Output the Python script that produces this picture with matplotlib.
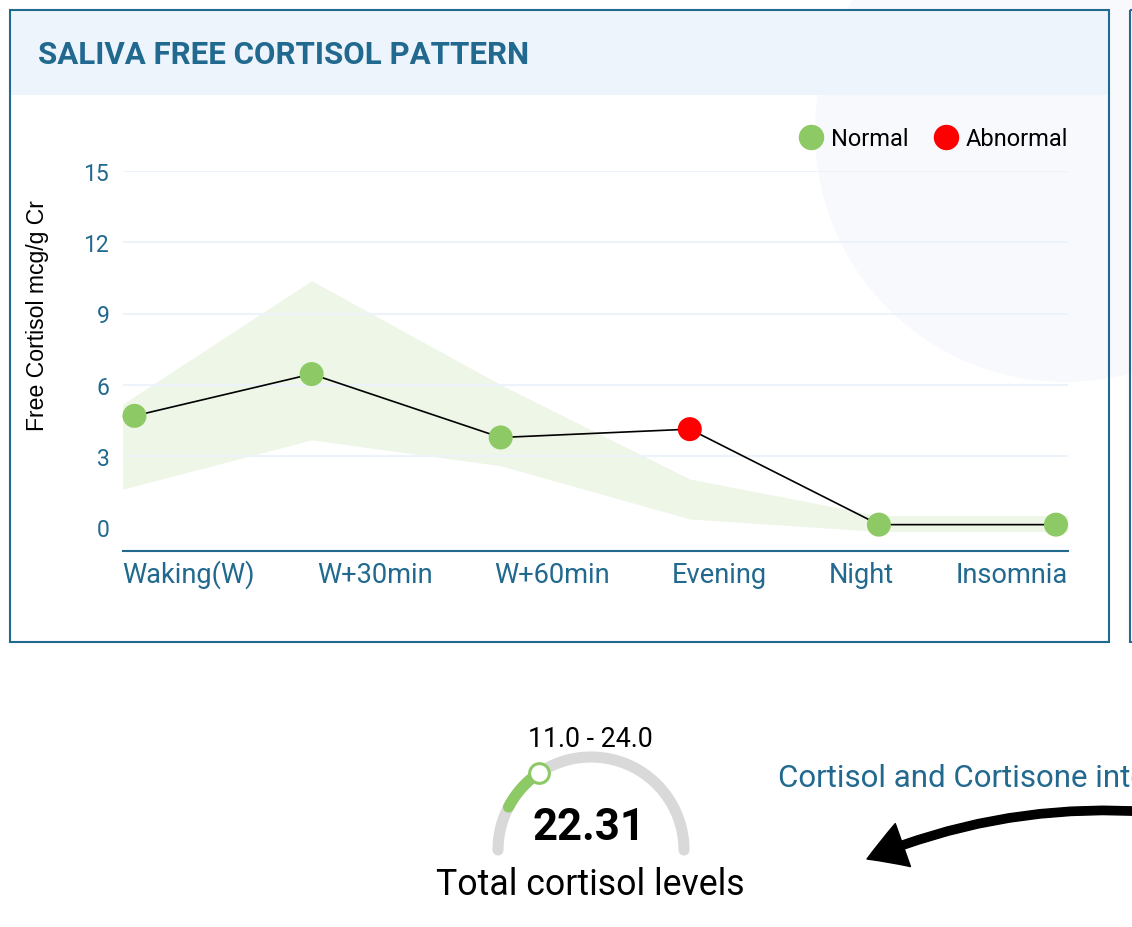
import numpy as np
import matplotlib
matplotlib.use('Agg')
import matplotlib.pyplot as plt
from matplotlib.patches import Rectangle, Circle, FancyArrowPatch, ArrowStyle
from matplotlib.lines import Line2D

# data
times = ['Waking(W)', 'W+30min', 'W+60min', 'Evening', 'Night', 'Insomnia']
cortisol = [4.69, 6.45, 3.78, 4.13, 0.11, 0.11]
status = ['normal', 'normal', 'normal', 'abnormal', 'normal', 'normal']
ref_low = [1.6, 3.68, 2.59, 0.35, -0.18, -0.18]
ref_high = [5.18, 10.38, 6.0, 2.03, 0.49, 0.49]
y_ticks = [0, 3, 6, 9, 12, 15]

total_cortisol = 22.31
total_range = (11.0, 24.0)

BLUE = '#22698f'
GREEN = '#8dc965'
RED = '#ff0000'
GRID = '#edf3fb'
BAND = '#eef6e7'

plt.rcParams['font.family'] = ['Roboto', 'DejaVu Sans']

W, H = 1132, 928
fig = plt.figure(figsize=(W / 100, H / 100), dpi=100)

# pixel overlay for the page decoration
bg = fig.add_axes([0, 0, 1, 1])
bg.set_xlim(0, W)
bg.set_ylim(H, 0)
bg.axis('off')

bg.add_patch(Circle((1065, 133), 250, color='#f7f9fc', lw=0, zorder=0))
bg.add_patch(Rectangle((10, 11), 1099, 85, color='#edf4fc', lw=0, zorder=1))
bg.add_patch(Rectangle((10, 11), 1099, 632, fill=False, ec=BLUE, lw=1.5, zorder=5))
bg.add_patch(Rectangle((1130, 11), 300, 632, fill=False, ec=BLUE, lw=1.5, zorder=5))
bg.text(38, 64, 'SALIVA FREE CORTISOL PATTERN', fontsize=22.5, fontweight='bold',
        color=BLUE, ha='left', va='baseline')
bg.text(38, 315.5, 'Free Cortisol mcg/g Cr', rotation=90, ha='center', va='center',
        fontsize=16.6, family=['Liberation Sans', 'DejaVu Sans'], color='black')

# chart
ax = fig.add_axes([122.5 / W, (H - 552) / H, (1068 - 122.5) / W, (552 - 172) / H])
ax.set_facecolor('none')
n = len(times)
ax.set_xlim(0, n - 1)
ax.set_ylim(-1, 15)

x_idx = np.arange(n, dtype=float)
unit_px = ax.get_window_extent().width / (n - 1)
inset = 12 / unit_px
xm = x_idx.copy()
xm[0] += inset
xm[-1] -= inset

ax.fill_between(x_idx, ref_low, ref_high, color=BAND, lw=0, zorder=1)
for t in y_ticks[1:]:
    ax.axhline(t, color=GRID, lw=1.5, zorder=1.5)
ax.plot(xm, cortisol, color='black', lw=1.2, zorder=3)
colors = [GREEN if s == 'normal' else RED for s in status]
ax.scatter(xm, cortisol, s=17.3 ** 2, c=colors, lw=0, zorder=4, clip_on=False)

for s in ['top', 'left', 'right']:
    ax.spines[s].set_visible(False)
ax.spines['bottom'].set_color(BLUE)
ax.spines['bottom'].set_linewidth(1.5)
ax.set_yticks(y_ticks)
ax.set_xticks([])
ax.tick_params(axis='y', length=0, pad=9.5, labelsize=16.5, labelcolor=BLUE)

handles = [Line2D([], [], marker='o', ls='', color=GREEN, ms=17.3, label='Normal'),
           Line2D([], [], marker='o', ls='', color=RED, ms=17.3, label='Abnormal')]
ax.legend(handles=handles, loc='center right', bbox_to_anchor=(1.0, 412 / 380), ncol=2,
          frameon=False, fontsize=17, handlelength=1.0, handletextpad=0.35,
          columnspacing=1.05, borderpad=0, borderaxespad=0)

# category labels spread edge to edge
fig.canvas.draw()
r = fig.canvas.get_renderer()
box = ax.get_window_extent(r)
labels = [bg.text(0, 583, t, fontsize=19.6, color=BLUE, ha='left', va='baseline') for t in times]
widths = [lab.get_window_extent(r).width for lab in labels]
gap = (box.x1 - box.x0 - sum(widths)) / (n - 1)
x = box.x0
for lab, w in zip(labels, widths):
    lab.set_x(x)
    x += w + gap

# gauge
gmax = 3 * total_range[1]


def ang(v):
    return np.pi * (1 - v / gmax)


cx, cy, R = 591, 851, 93
th = np.linspace(0, np.pi, 200)
bg.plot(cx + R * np.cos(th), cy - R * np.sin(th), color='#d9d9d9', lw=8,
        solid_capstyle='round', zorder=2)
th_g = np.linspace(ang(total_range[0]), ang(total_cortisol), 60)
bg.plot(cx + R * np.cos(th_g), cy - R * np.sin(th_g), color=GREEN, lw=8,
        solid_capstyle='round', zorder=3)
a = ang(total_cortisol)
bg.plot([cx + R * np.cos(a)], [cy - R * np.sin(a)], marker='o', ms=14.2, mfc='white',
        mec=GREEN, mew=2.2, zorder=4)
bg.text(590, 747, f'{total_range[0]:.1f} - {total_range[1]:.1f}', fontsize=19.3,
        ha='center', va='baseline', color='black')
bg.text(589, 840, f'{total_cortisol:.2f}', fontsize=31.5, fontweight='bold',
        ha='center', va='baseline', color='black')
bg.text(590, 895, 'Total cortisol levels', fontsize=25.7, ha='center', va='baseline',
        color='black')

bg.text(778, 787, 'Cortisol and Cortisone interconversion', fontsize=22.5, color=BLUE,
        ha='left', va='baseline')
arrow = FancyArrowPatch((1150, 813), (867, 860),
                        arrowstyle=ArrowStyle('simple', head_length=27.7, head_width=32.8,
                                              tail_width=6.0),
                        connectionstyle='arc3,rad=0.12', color='black',
                        shrinkA=0, shrinkB=0, mutation_scale=1, zorder=3)
bg.add_patch(arrow)

fig.savefig('out.png', dpi=100)
